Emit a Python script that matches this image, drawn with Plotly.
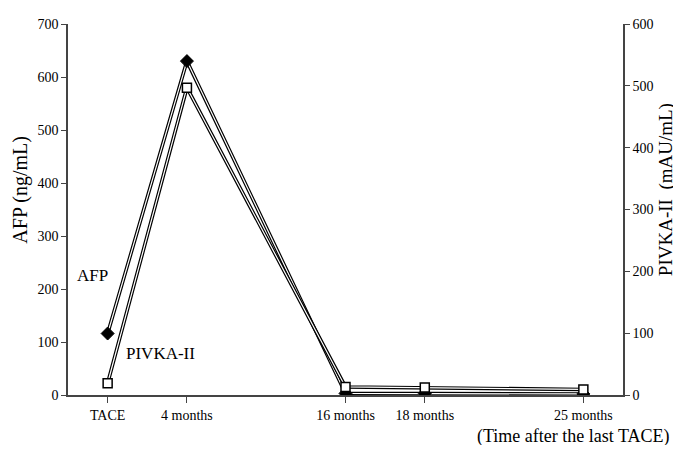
import plotly.graph_objects as go

# Data
time_labels = ["TACE", "4 months", "16 months", "18 months", "25 months"]
time_pos = [0, 1, 3, 4, 6]
afp = [116, 630, 3, 3, 2]          # ng/mL (left axis)
pivka = [19, 497, 13, 12, 9]       # mAU/mL (right axis)

FONT = "Liberation Serif, Times New Roman, serif"
AX = "#444444"

fig = go.Figure()

# outlined lines (black wide + white narrow) to mimic the double-stroke look
for ys, ax in ((afp, "y"), (pivka, "y2")):
    fig.add_trace(go.Scatter(x=time_pos, y=ys, yaxis=ax, mode="lines",
                             line=dict(color="black", width=3.6),
                             hoverinfo="skip", showlegend=False))
    fig.add_trace(go.Scatter(x=time_pos, y=ys, yaxis=ax, mode="lines",
                             line=dict(color="white", width=1.2),
                             hoverinfo="skip", showlegend=False))

fig.add_trace(go.Scatter(x=time_pos, y=afp, yaxis="y", mode="markers", name="AFP",
                         marker=dict(symbol="diamond", size=10, color="black",
                                     line=dict(color="black", width=1)),
                         showlegend=False))
fig.add_trace(go.Scatter(x=time_pos, y=pivka, yaxis="y2", mode="markers", name="PIVKA-II",
                         marker=dict(symbol="square", size=9, color="white",
                                     line=dict(color="black", width=1.5)),
                         showlegend=False))

fig.update_layout(
    width=673, height=437,
    margin=dict(l=60, r=58, t=9, b=50),
    paper_bgcolor="white", plot_bgcolor="white",
    font=dict(family=FONT, color="black", size=14),
    xaxis=dict(range=[-0.5, 6.5], tickvals=time_pos, ticktext=time_labels,
               showgrid=False, zeroline=False, showline=True, linecolor=AX, linewidth=1.5,
               ticks="outside", ticklen=6, tickcolor=AX, tickfont=dict(size=14, family=FONT)),
    yaxis=dict(range=[0, 700], dtick=100, showgrid=False, zeroline=False,
               showline=True, linecolor=AX, linewidth=1.5, ticks="outside", ticklen=5,
               tickcolor=AX, tickfont=dict(size=14, family=FONT)),
    yaxis2=dict(range=[0, 600], dtick=100, overlaying="y", side="right", showgrid=False,
                zeroline=False, showline=True, linecolor=AX, linewidth=1.5, ticks="outside",
                ticklen=5, tickcolor=AX, tickfont=dict(size=14, family=FONT)),
    annotations=[
        dict(x=-0.085, y=0.553, xref="paper", yref="paper", text="AFP (ng/mL)",
             textangle=-90, showarrow=False, xanchor="center", yanchor="middle",
             font=dict(size=20, family=FONT)),
        dict(x=1.078, y=0.553, xref="paper", yref="paper", text="PIVKA-II\u00a0 (mAU/mL)",
             textangle=-90, showarrow=False, xanchor="center", yanchor="middle",
             font=dict(size=19, family=FONT)),
        dict(x=-0.19, y=226, xref="x", yref="y", text="AFP", showarrow=False,
             font=dict(size=17, family=FONT)),
        dict(x=0.67, y=78, xref="x", yref="y", text="PIVKA-II", showarrow=False,
             font=dict(size=17, family=FONT)),
        dict(x=1.088, y=-0.111, xref="paper", yref="paper", text="(Time after the last TACE)",
             showarrow=False, xanchor="right", yanchor="middle",
             font=dict(size=18, family=FONT)),
    ],
)

fig.write_html("out.html")
